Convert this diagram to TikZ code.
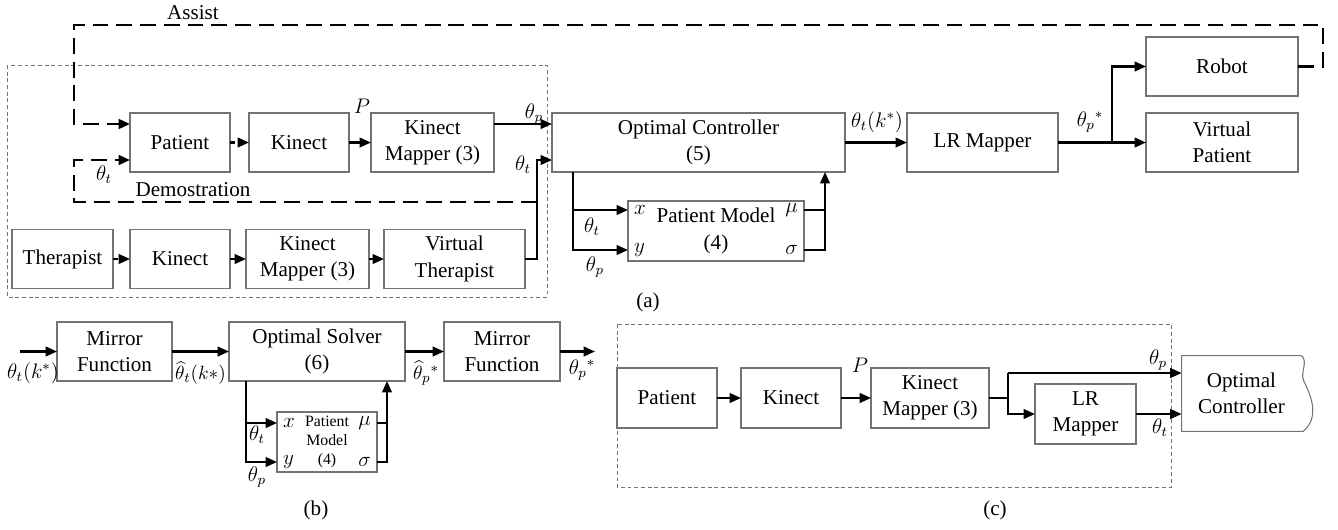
\documentclass[tikz,border=0pt]{standalone}
\usepackage{fontspec}
\setmainfont{Liberation Serif}
\usetikzlibrary{positioning, calc, arrows.meta}

\tikzset{
  >={Triangle[length=6.5pt,width=5.5pt]},
  block/.style={draw=black!55, line width=0.6pt, rectangle, minimum width=2cm,
                minimum height=1.18cm, inner sep=0pt, outer sep=0pt, align=center},
  signal/.style={line width=1.2pt, ->},
  wire/.style={line width=1.2pt},
  assist/.style={line width=1.5pt, dash pattern=on 9pt off 4.5pt},
  dotlink/.style={line width=1.2pt, dash pattern=on 2.6pt off 1.8pt, ->},
  frame/.style={draw=black!55, line width=0.5pt, dash pattern=on 2.2pt off 1.6pt},
  outline/.style={draw=black!55, line width=0.6pt},
  lbl/.style={inner sep=0.5pt},
  tight/.style={inner sep=0pt, font=\fontsize{11pt}{13pt}\selectfont}
}

\begin{document}
\begin{tikzpicture}[font=\fontsize{12pt}{15pt}\selectfont]
    \useasboundingbox (0,0) rectangle (26.76,-10.58);

    % levels used by the inputs
    \coordinate (la) at (0,-2.48);
    \coordinate (lb) at (0,-3.2);
    \coordinate (dl) at (1.48,-4.04);

    % (a)
    \node[block] (pata) at (3.6,-2.85) {Patient};
    \node[block, right=0.38cm of pata] (kina) {Kinect};
    \node[block, minimum width=2.46cm, right=0.44cm of kina] (kmapa) {Kinect\\Mapper (3)};
    \node[block, minimum width=5.86cm, right=1.16cm of kmapa] (ctrl) {Optimal Controller\\(5)};
    \node[block, minimum width=3.02cm, right=1.24cm of ctrl] (lra) {LR Mapper};
    \node[block, minimum width=3.04cm, right=1.76cm of lra] (vpat) {Virtual\\Patient};
    \node[block, minimum width=3.04cm, above=0.34cm of vpat] (robot) {Robot};
    \node[block, minimum width=3.52cm, minimum height=1.2cm] (pmoda) at (14.32,-4.62) {Patient Model\\(4)};

    \node[block, minimum width=2.02cm] (ther) at (1.25,-5.18) {Therapist};
    \node[block, right=0.34cm of ther] (kinb) {Kinect};
    \node[block, minimum width=2.46cm, right=0.32cm of kinb] (kmapb) {Kinect\\Mapper (3)};
    \node[block, minimum width=2.82cm, right=0.30cm of kmapb] (vther) {Virtual\\Therapist};

    \draw[frame] (0.14,-1.3) rectangle (10.94,-5.94);

    \draw[dotlink] (pata) -- (kina);
    \draw[signal] (kina) -- (kmapa);
    \draw[signal] (kmapa.east |- la) -- (ctrl.west |- la);
    \draw[dotlink] (ther) -- (kinb);
    \draw[signal] (kinb) -- (kmapb);
    \draw[signal] (kmapb) -- (vther);
    \draw[signal] (vther.east) -- ++(0.24,0) coordinate (vj) |- (ctrl.west |- lb);
    \draw[assist, ->] (vj |- dl) -- (dl) |- (pata.west |- lb);
    \draw[assist, ->] (robot.east) -- ++(0.5,0) |- (1.48,-0.5) |- (pata.west |- la);

    \draw[signal] (ctrl) -- (lra);
    \draw[signal] (lra) -- (vpat);
    \draw[signal] (lra.east) -- ++(1.08,0) |- (robot);

    \coordinate (cd) at ($(ctrl.south west)+(0.42,0)$);
    \coordinate (pax) at ($(pmoda.north west)+(0,-0.18)$);
    \coordinate (pay) at ($(pmoda.south west)+(0,0.22)$);
    \coordinate (pamu) at ($(pmoda.north east)+(0,-0.18)$);
    \coordinate (pasig) at ($(pmoda.south east)+(0,0.22)$);
    \draw[signal] (cd) |- (pay);
    \draw[signal] (cd |- pax) -- (pax);
    \draw[wire] (pamu) -- ++(0.42,0);
    \draw[signal] (pasig) -- ++(0.42,0) coordinate (cr) -- (cr |- ctrl.south);

    \node[lbl] (tassist) at (3.86,-0.26) {Assist};
    \node[lbl] (tdemo) at (3.86,-3.8) {Demostration};
    \node[lbl] (tdemot) at (2.08,-3.5) {$\theta_t$};
    \node[lbl] (tpa) at (7.24,-2.12) {$P$};
    \node[lbl] (tinp) at (10.68,-2.28) {$\theta_p$};
    \node[lbl] (tint) at (10.46,-3.3) {$\theta_t$};
    \node[lbl] (tcout) at (17.54,-2.44) {$\theta_t(k^*)$};
    \node[lbl] (tlrout) at (21.8,-2.44) {$\theta_p{}^*$};
    \node[lbl] (tmodt) at (11.84,-4.54) {$\theta_t$};
    \node[lbl] (tmodp) at (11.9,-5.34) {$\theta_p$};
    \node[anchor=west] (tax) at (pax) {$x$};
    \node[anchor=west] (tay) at (pay) {$y$};
    \node[anchor=east] (tamu) at (pamu) {$\mu$};
    \node[anchor=east] (tasig) at (pasig) {$\sigma$};
    \node[lbl] (capa) at (12.96,-6.04) {(a)};

    % (b)
    \node[block, minimum width=2.3cm] (mir1) at (2.29,-7.03) {Mirror\\Function};
    \node[block, minimum width=3.52cm, right=1.14cm of mir1] (solv) {Optimal Solver\\(6)};
    \node[block, minimum width=2.32cm, right=0.78cm of solv] (mir2) {Mirror\\Function};
    \node[block, minimum height=1.2cm, font=\fontsize{9pt}{11pt}\selectfont] (pmodb) at (6.54,-8.84) {Patient\\Model\\(4)};

    \coordinate (bin) at ($(mir1.west)+(-0.74,0)$);
    \coordinate (bout) at ($(mir2.east)+(0.7,0)$);
    \draw[signal] (bin) -- (mir1);
    \draw[signal] (mir1) -- (solv);
    \draw[signal] (solv) -- (mir2);
    \draw[signal] (mir2) -- (bout);

    \coordinate (sd) at ($(solv.south west)+(0.34,0)$);
    \coordinate (pbx) at ($(pmodb.north west)+(0,-0.22)$);
    \coordinate (pby) at ($(pmodb.south west)+(0,0.2)$);
    \coordinate (pbmu) at ($(pmodb.north east)+(0,-0.22)$);
    \coordinate (pbsig) at ($(pmodb.south east)+(0,0.2)$);
    \draw[signal] (sd) |- (pby);
    \draw[signal] (sd |- pbx) -- (pbx);
    \draw[wire] (pbmu) -- ++(0.2,0);
    \draw[signal] (pbsig) -- ++(0.2,0) coordinate (sr) -- (sr |- solv.south);

    \node[lbl] (tbin) at (0.66,-7.46) {$\theta_t(k^*)$};
    \node[tight] (tbhat) at (4.01,-7.46) {$\widehat{\theta}_t(k*)$};
    \node[tight] (tbphat) at (8.52,-7.46) {$\widehat{\theta}_p{}^*$};
    \node[lbl] (tbout) at (11.64,-7.4) {$\theta_p{}^*$};
    \node[lbl] (tbt) at (5.14,-8.7) {$\theta_t$};
    \node[lbl] (tbp) at (5.14,-9.54) {$\theta_p$};
    \node[anchor=west] (tbx) at (pbx) {$x$};
    \node[anchor=west] (tby) at (pby) {$y$};
    \node[anchor=east] (tbmu) at (pbmu) {$\mu$};
    \node[anchor=east] (tbsig) at (pbsig) {$\sigma$};
    \node[lbl] (capb) at (6.32,-10.2) {(b)};

    % (c)
    \node[block, minimum height=1.2cm] (patc) at (13.34,-7.96) {Patient};
    \node[block, minimum height=1.2cm, right=0.48cm of patc] (kinc) {Kinect};
    \node[block, minimum width=2.36cm, minimum height=1.2cm, right=0.6cm of kinc] (kmapc) {Kinect\\Mapper (3)};
    \node[block, minimum width=2.02cm, minimum height=1.2cm] (lrc) at (21.71,-8.28) {LR\\Mapper};
    \node[minimum width=2.38cm, minimum height=1.5cm, inner sep=0pt, align=center] (ctrlc) at (24.83,-7.87) {Optimal\\Controller};
    \draw[outline] (ctrlc.north east) -- (ctrlc.north west) -- (ctrlc.south west)
        -- ($(ctrlc.south east)+(0.04,0)$)
        .. controls ($(ctrlc.east)+(0.42,-0.43)$) and ($(ctrlc.east)+(0.12,0.09)$) .. ($(ctrlc.east)+(0.04,0.27)$)
        .. controls ($(ctrlc.east)+(-0.02,0.42)$) and ($(ctrlc.east)+(0.14,0.65)$) .. (ctrlc.north east);

    \draw[frame] (12.34,-6.48) rectangle (23.42,-9.74);

    \coordinate (ctop) at (0,-7.46);
    \draw[signal] (patc) -- (kinc);
    \draw[signal] (kinc) -- (kmapc);
    \draw[wire] (kmapc.east) -- ++(0.38,0) coordinate (cj);
    \draw[signal] (cj |- ctop) -- (ctrlc.west |- ctop);
    \draw[signal] (cj |- ctop) |- (lrc);
    \draw[signal] (lrc) -- (ctrlc.west |- lrc);

    \node[lbl] (tcp) at (17.2,-7.3) {$P$};
    \node[lbl] (tcthp) at (23.16,-7.2) {$\theta_p$};
    \node[lbl] (tctht) at (23.2,-8.56) {$\theta_t$};
    \node[lbl] (capc) at (19.9,-10.2) {(c)};
\end{tikzpicture}
\end{document}
